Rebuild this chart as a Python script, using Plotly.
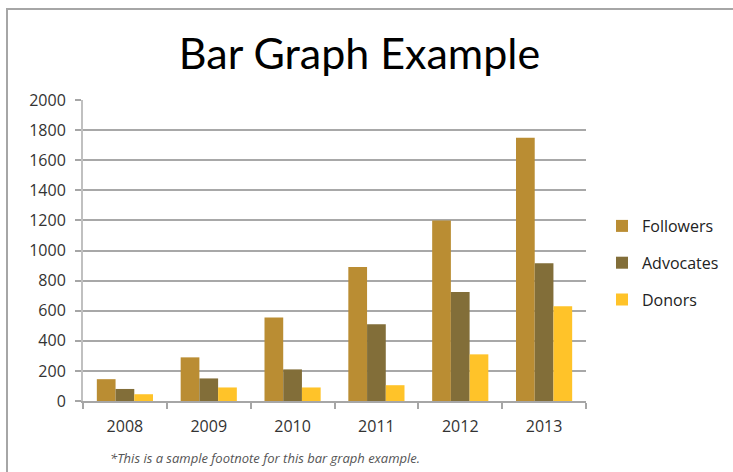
import plotly.graph_objects as go

years = ["2008", "2009", "2010", "2011", "2012", "2013"]
followers = [145, 290, 555, 890, 1200, 1750]
advocates = [80, 150, 210, 510, 725, 915]
donors = [45, 90, 90, 105, 310, 630]
series_names = ["Followers", "Advocates", "Donors"]
colors = ["#BA8D33", "#826E39", "#FFC329"]
title_text = "Bar Graph Example"
footnote = "*This is a sample footnote for this bar graph example."

fig = go.Figure()
for name, vals, col in zip(series_names, [followers, advocates, donors], colors):
    fig.add_trace(go.Bar(x=years, y=vals, name=name, legendgroup=name,
                         marker=dict(color=col, line=dict(width=0))))

L, R, T, B = 83, 147, 100, 71
W, H = 733, 472
pw, ph = W - L - R, H - T - B

fig.update_layout(
    width=W, height=H,
    margin=dict(l=L, r=R, t=T, b=B, autoexpand=False),
    paper_bgcolor="white", plot_bgcolor="white",
    barmode="group", bargap=0.33, bargroupgap=0,
    font=dict(family="Open Sans", size=16, color="#333333"),
    title=dict(text=title_text, x=359.5 / W, xanchor="center", y=1 - 54 / H, yanchor="middle",
               font=dict(family="Lato", size=43, color="#000000")),
    legend=dict(xref="container", yref="container", x=602 / W, xanchor="left",
                y=1 - 263 / H, yanchor="middle",
                font=dict(family="Open Sans", size=16, color="#222222"),
                traceorder="grouped", tracegroupgap=13, itemsizing="constant",
                bgcolor="rgba(0,0,0,0)"),
    showlegend=True,
)
fig.update_xaxes(type="category", showgrid=False, showline=True, linecolor="#a6a6a6", linewidth=2,
                 ticks="outside", tickson="boundaries", ticklen=6, tickcolor="#a6a6a6", tickwidth=2,
                 ticklabelstandoff=10,
                 tickfont=dict(size=16, color="#333333"))
fig.update_yaxes(range=[0, 2000], dtick=200, showgrid=True, gridcolor="#a8a8a8", gridwidth=2,
                 showline=True, linecolor="#c0c0c0", linewidth=2, zeroline=False,
                 ticks="outside", ticklen=6, tickcolor="#a6a6a6", tickwidth=2,
                 ticklabelstandoff=6,
                 tickfont=dict(size=16, color="#333333"))

# outer frame
fig.add_shape(type="rect", xref="paper", yref="paper",
              x0=(7 - L) / pw, x1=(W + 20 - L) / pw,
              y0=-(H + 20 - (T + ph)) / ph, y1=1 + (T - 9) / ph,
              line=dict(color="#a6a6a6", width=2), fillcolor="rgba(0,0,0,0)", layer="below")

fig.add_annotation(text="<i>" + footnote + "</i>", xref="paper", yref="paper", x=(108 - L) / pw,
                   xanchor="left", y=-(458 - (T + ph)) / ph, yanchor="middle", showarrow=False,
                   font=dict(family="Open Sans", size=13, color="#555555"))

fig.write_html("out.html")
